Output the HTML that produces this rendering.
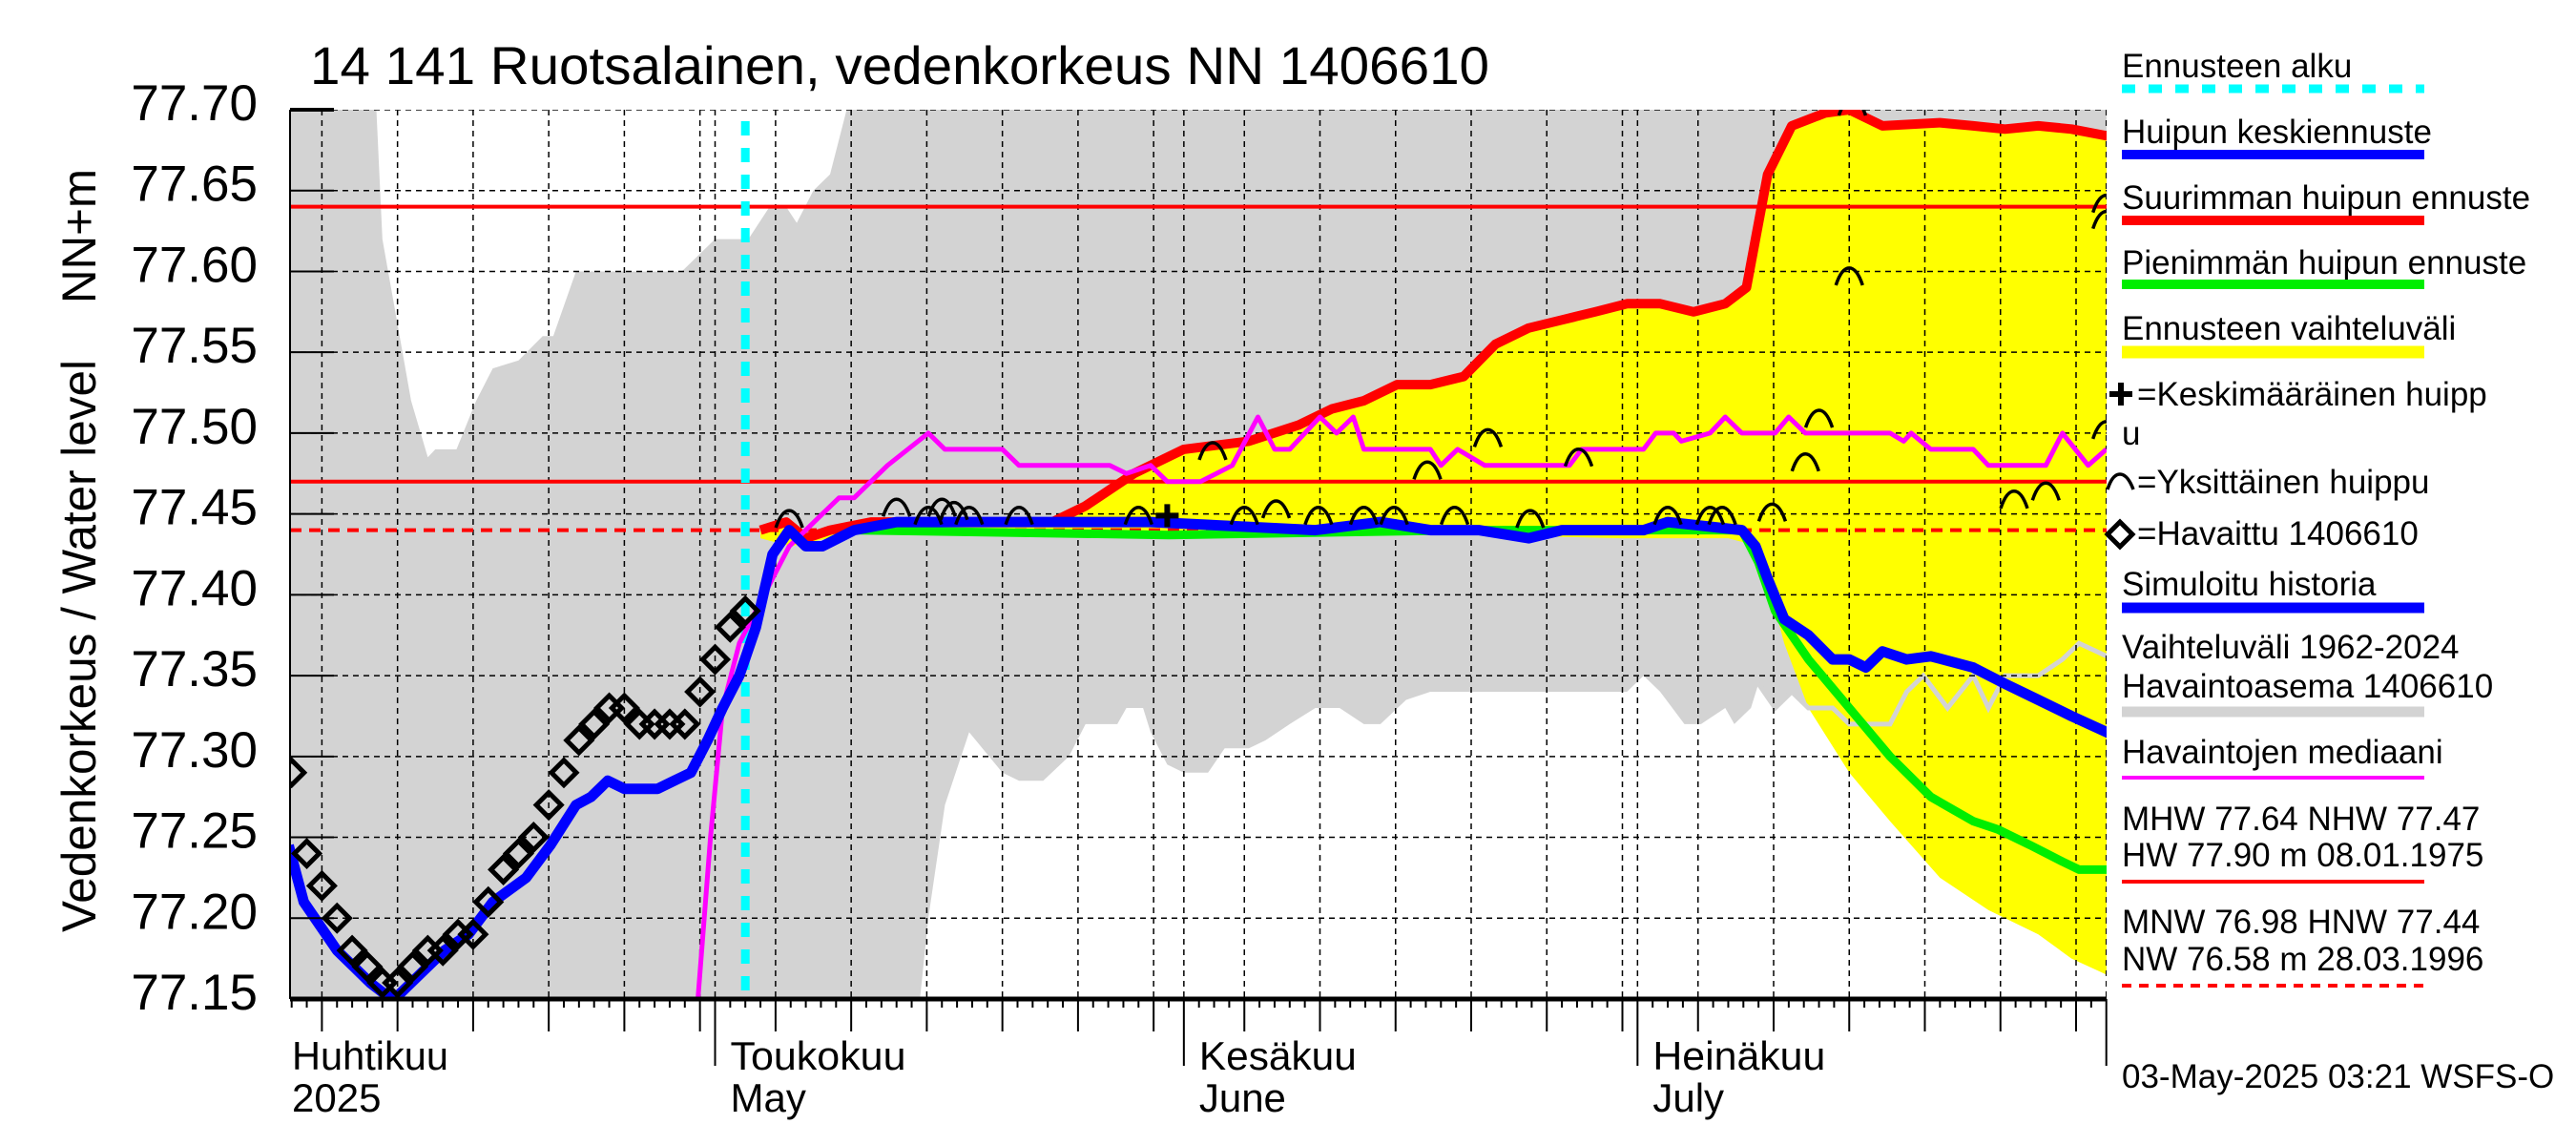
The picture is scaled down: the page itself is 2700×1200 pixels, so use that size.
<!DOCTYPE html>
<html><head><meta charset="utf-8"><style>
html,body{margin:0;padding:0;background:#fff;}
svg{display:block;font-family:"Liberation Sans",sans-serif;}
</style></head><body>
<svg id="chart" xmlns="http://www.w3.org/2000/svg" width="2700" height="1200" viewBox="0 0 2700 1200">
<defs><clipPath id="plotclip"><rect x="304" y="115" width="1904" height="932"/></clipPath></defs>
<rect width="2700" height="1200" fill="#fff"/>
<g id="plot" clip-path="url(#plotclip)"></g>
<g id="axes"></g>
<text x="325" y="88" font-size="56" textLength="1236" lengthAdjust="spacingAndGlyphs">14 141 Ruotsalainen, vedenkorkeus NN 1406610</text>
<text transform="translate(100,977) rotate(-90)" font-size="50" textLength="600" lengthAdjust="spacingAndGlyphs">Vedenkorkeus / Water level</text>
<text transform="translate(100,318) rotate(-90)" font-size="50" textLength="141" lengthAdjust="spacingAndGlyphs">NN+m</text>
<g id="legend" font-size="35"></g>
</svg>
<script>
// ---- data (days since 1 April 2025) ----
const yTicks = [77.15,77.20,77.25,77.30,77.35,77.40,77.45,77.50,77.55,77.60,77.65,77.70];
const yTickLabels = ["77.15","77.20","77.25","77.30","77.35","77.40","77.45","77.50","77.55","77.60","77.65","77.70"];
const monthDays = [0,30,61,91,122];
const monthNames = ["Huhtikuu","Toukokuu","Kesäkuu","Heinäkuu"];
const monthNamesEn = ["2025","May","June","July"];
const forecastStart = 32.0;
const refLevels = [77.64,77.47];
const refDashed = [77.44];

const grayUpDays = [1.8,7.6,8.0,9.9,11.0,11.5,12.9,14.2,15.3,17.0,18.6,19.3,20.8,21.8,27.8,30.0,32.2,33.6,34.7,35.4,36.5,37.6,38.7,123];
const grayUpVals = [77.70,77.70,77.62,77.52,77.485,77.49,77.49,77.52,77.54,77.545,77.56,77.56,77.60,77.60,77.60,77.62,77.62,77.64,77.64,77.63,77.65,77.66,77.70,77.70];
const grayLoDays = [1.8,43.0,44.1,45.2,46.8,49.0,50.1,51.7,53.4,54.5,56.6,57.2,58.3,58.8,59.9,61.0,62.6,63.7,65.3,66.4,68.0,69.7,71.3,72.9,74.0,75.7,77.3,90.3,91.4,92.5,94.1,95.2,96.8,97.4,98.5,99.0,100.1,101.2,102.3,103.9,105.0,107.7,108.8,109.9,111.5,113.2,114.2,115.3,117.5,119.1,120.2,122.5];
const grayLoVals = [77.10,77.10,77.20,77.27,77.315,77.29,77.285,77.285,77.30,77.32,77.32,77.33,77.33,77.315,77.295,77.29,77.29,77.305,77.305,77.31,77.32,77.33,77.33,77.32,77.32,77.335,77.34,77.34,77.35,77.34,77.32,77.32,77.33,77.32,77.33,77.345,77.33,77.34,77.33,77.33,77.32,77.32,77.34,77.35,77.33,77.35,77.33,77.35,77.35,77.36,77.37,77.36];

const maxDays = [33.0,34.7,36.0,37.6,40.3,47.9,52.3,54.5,57.7,61.0,65.3,68.6,70.8,72.9,75.1,77.3,79.5,81.6,83.8,86.0,88.2,90.3,92.5,94.7,96.8,98.2,98.8,99.6,101.2,103.4,105.0,107.2,111.0,113.2,115.3,117.5,119.7,122.5];
const maxVals = [77.44,77.445,77.435,77.44,77.445,77.445,77.445,77.455,77.475,77.49,77.495,77.505,77.515,77.52,77.53,77.53,77.535,77.555,77.565,77.57,77.575,77.58,77.58,77.575,77.58,77.59,77.62,77.66,77.69,77.698,77.70,77.69,77.692,77.69,77.688,77.69,77.688,77.683];
const bandLoDays = [33.0,35.0,40.0,60.0,80.0,90.0,97.0,99.0,100.7,102.3,105.0,107.7,111.0,114.2,117.5,119.7,122.5];
const bandLoVals = [77.435,77.43,77.44,77.438,77.437,77.435,77.435,77.43,77.37,77.33,77.29,77.26,77.225,77.205,77.19,77.175,77.163];

const minDays = [39.2,60.0,80.0,97.9,99.0,100.1,102.3,105.0,107.7,110.4,113.2,114.8,117.0,119.1,120.2,122.5];
const minVals = [77.44,77.437,77.44,77.44,77.42,77.39,77.36,77.33,77.30,77.275,77.26,77.255,77.245,77.235,77.23,77.23];

const meanDays = [1.8,2.8,3.9,5.0,6.1,7.2,8.3,8.8,9.9,11.0,12.1,13.7,15.3,17.5,19.1,20.8,21.8,22.9,24.0,26.2,27.3,28.4,29.5,30.5,31.6,32.7,33.8,34.9,36.0,37.1,39.2,42.0,58.8,69.7,74.0,77.3,80.5,83.8,86.0,91.4,93.0,97.9,98.8,99.6,100.7,102.3,103.9,105.0,106.1,107.2,108.8,110.4,113.2,115.3,117.5,119.7,122.5];
const meanVals = [77.245,77.21,77.195,77.18,77.17,77.16,77.152,77.15,77.16,77.17,77.18,77.19,77.21,77.225,77.245,77.27,77.275,77.285,77.28,77.28,77.285,77.29,77.31,77.33,77.35,77.38,77.425,77.44,77.43,77.43,77.44,77.445,77.445,77.44,77.445,77.44,77.44,77.435,77.44,77.44,77.445,77.44,77.43,77.41,77.385,77.375,77.36,77.36,77.355,77.365,77.36,77.362,77.355,77.345,77.335,77.325,77.313];

const medianDays = [28.7,29.7,30.5,31.6,32.7,33.8,34.9,36.0,37.1,38.2,39.2,41.4,44.1,45.2,49.0,50.1,56.1,57.2,58.8,59.9,62.1,64.2,65.9,67.0,68.0,70.0,71.1,72.2,72.9,77.3,78.0,79.1,80.9,86.5,87.3,91.4,92.2,93.4,93.9,95.8,96.8,97.9,100.1,101.0,102.1,107.7,108.6,109.1,110.4,113.2,114.2,115.1,118.0,119.1,120.8,122.0];
const medianVals = [77.13,77.25,77.33,77.37,77.39,77.41,77.43,77.44,77.45,77.46,77.46,77.48,77.50,77.49,77.49,77.48,77.48,77.475,77.48,77.47,77.47,77.48,77.51,77.49,77.49,77.51,77.50,77.51,77.49,77.49,77.48,77.49,77.48,77.48,77.49,77.49,77.50,77.50,77.495,77.50,77.51,77.50,77.50,77.51,77.50,77.50,77.495,77.50,77.49,77.49,77.48,77.48,77.48,77.50,77.48,77.49];

const obsDays = [2,3,4,5,6,7,8,9,10,11,12,13,14,15,16,17,18,19,20,21,22,23,24,25,26,27,28,29,30,31,32];
const obsVals = [77.29,77.24,77.22,77.20,77.18,77.17,77.16,77.16,77.17,77.18,77.18,77.19,77.19,77.21,77.23,77.24,77.25,77.27,77.29,77.31,77.32,77.33,77.33,77.32,77.32,77.32,77.32,77.34,77.36,77.38,77.39];

const peakDays = [34.9,42.0,44.1,45.0,45.8,46.8,50.1,58.0,62.9,65.0,67.1,69.9,72.9,74.9,77.1,78.9,81.1,83.9,87.1,93.0,95.8,96.6,99.9,102.1,103.0,105.0,105.2,115.9,118.0,122.0,122.0,122.0];
const peakVals = [77.445,77.452,77.447,77.452,77.45,77.447,77.447,77.447,77.487,77.447,77.451,77.447,77.447,77.447,77.475,77.447,77.495,77.445,77.483,77.447,77.447,77.447,77.449,77.48,77.507,77.595,77.70,77.457,77.462,77.64,77.63,77.50];
const meanPeakDays = [59.9];
const meanPeakVals = [77.449];

// ---- scales ----
const X0 = 274, DX = 15.85, PL = 304, PR = 2208, PT = 115, PB = 1047;
const xS = d => X0 + d * DX;
const yS = v => PT + (77.70 - v) / 0.55 * (PB - PT);
const NS = "http://www.w3.org/2000/svg";
function mk(tag, attrs, parent) {
  const e = document.createElementNS(NS, tag);
  for (const k in attrs) e.setAttribute(k, attrs[k]);
  parent.appendChild(e);
  return e;
}
const plot = document.getElementById('plot');
const axes = document.getElementById('axes');
const legend = document.getElementById('legend');
const pts = (ds, vs) => ds.map((d, i) => xS(d).toFixed(1) + ',' + yS(vs[i]).toFixed(1)).join(' ');

const grayPoly = pts(grayUpDays, grayUpVals) + ' ' + pts(grayLoDays.slice().reverse(), grayLoVals.slice().reverse());
let e = mk('polygon', {points: grayPoly, fill: '#d3d3d3'}, plot);



const yelPoly = pts(maxDays, maxVals) + ' ' + pts(bandLoDays.slice().reverse(), bandLoVals.slice().reverse());
e = mk('polygon', {points: yelPoly, fill: '#ffff00'}, plot);



const gi = grayLoDays.findIndex(d => d >= 99);
e = mk('polyline', {points: pts(grayLoDays.slice(gi), grayLoVals.slice(gi)), fill: 'none', stroke: '#d3d3d3', 'stroke-width': 5}, plot);



const gridG = mk('g', {stroke: '#000', 'stroke-width': 1.5, 'stroke-dasharray': '6,5'}, plot);


const gridDays = [];
for (let m = 0; m < 4; m++) {
  const s = monthDays[m];
  gridDays.push(s);
  for (let k = 5; k <= 30; k += 5) gridDays.push(s + k - 1);
}
gridDays.push(122);
gridDays.forEach(d => {
  e = mk('line', {x1: xS(d), x2: xS(d), y1: PT, y2: PB}, gridG);
  
  
});
yTicks.forEach(v => {
  e = mk('line', {x1: PL, x2: PR, y1: yS(v), y2: yS(v)}, gridG);
  
  
});

refLevels.forEach(v => {
  e = mk('line', {x1: PL, x2: PR, y1: yS(v), y2: yS(v), stroke: '#ff0000', 'stroke-width': 4}, plot);
  
  
});
refDashed.forEach(v => {
  e = mk('line', {x1: PL, x2: PR, y1: yS(v), y2: yS(v), stroke: '#ff0000', 'stroke-width': 4, 'stroke-dasharray': '12,8'}, plot);
  
  
});

e = mk('line', {x1: xS(forecastStart), x2: xS(forecastStart), y1: PT + 12, y2: PB, stroke: '#00ffff', 'stroke-width': 9, 'stroke-dasharray': '15,13'}, plot);



function line(ds, vs, col, w, name) {
  const l = mk('polyline', {points: pts(ds, vs), fill: 'none', stroke: col, 'stroke-width': w, 'stroke-linejoin': 'round'}, plot);
  
  
}
line(maxDays, maxVals, '#ff0000', 10, 'max-peak-forecast-line');
line(minDays, minVals, '#00ee00', 9, 'min-peak-forecast-line');
line(medianDays, medianVals, '#ff00ff', 5, 'median-line');
line(meanDays, meanVals, '#0000ff', 11, 'mean-forecast-line');

obsDays.forEach((d, i) => {
  const cx = xS(d), cy = yS(obsVals[i]), r = 13;
  const p = mk('polygon', {points: `${cx},${cy-r} ${cx+r},${cy} ${cx},${cy+r} ${cx-r},${cy}`, fill: 'none', stroke: '#000', 'stroke-width': 5}, plot);
  
  
});
peakDays.forEach((d, i) => {
  const cx = xS(d), cy = yS(peakVals[i]);
  const p = mk('path', {d: `M${cx-14},${cy+6} Q${cx-8},${cy-12} ${cx},${cy-12} Q${cx+8},${cy-12} ${cx+14},${cy+6}`, fill: 'none', stroke: '#000', 'stroke-width': 3.5}, plot);
  
  
});
meanPeakDays.forEach((d, i) => {
  const cx = xS(d), cy = yS(meanPeakVals[i]);
  const p = mk('path', {d: `M${cx-12},${cy} H${cx+12} M${cx},${cy-12} V${cy+12}`, stroke: '#000', 'stroke-width': 6}, plot);
  
  
});

e = mk('line', {x1: PL, x2: PL, y1: PT, y2: PB, stroke: '#000', 'stroke-width': 2}, axes);


e = mk('line', {x1: PL, x2: PR, y1: PB, y2: PB, stroke: '#000', 'stroke-width': 5}, axes);


yTicks.forEach((v, i) => {
  e = mk('line', {x1: PL, x2: PL + 46, y1: yS(v), y2: yS(v), stroke: '#000', 'stroke-width': i === yTicks.length - 1 ? 4 : 2}, axes);
  
  
  const t = mk('text', {x: 270, y: yS(v) + 11, 'font-size': 53, 'text-anchor': 'end'}, axes);
  t.textContent = yTickLabels[i];
  
  
});
for (let d = 2; d <= 122; d++) {
  let len = 9;
  if (monthDays.includes(d)) len = 70;
  else if (gridDays.includes(d)) len = 34;
  e = mk('line', {x1: xS(d), x2: xS(d), y1: PB, y2: PB + len, stroke: '#000', 'stroke-width': 2}, axes);
  
  
}
const labW = [164, 184, 165, 181];
for (let m = 0; m < 4; m++) {
  const lx = m === 0 ? 306 : xS(monthDays[m]) + 16;
  let t = mk('text', {x: lx, y: 1121, 'font-size': 42, textLength: labW[m], lengthAdjust: 'spacingAndGlyphs'}, axes);
  t.textContent = monthNames[m];
  
  
  t = mk('text', {x: lx, y: 1165, 'font-size': 42}, axes);
  t.textContent = monthNamesEn[m];
  
  
}

const LX = 2224, LX2 = 2541;
function ltext(txt, x, y, name) {
  const t = mk('text', {x: x, y: y}, legend);
  t.textContent = txt;
  
  
}
function lline(y, col, w, dash, name) {
  const a = {x1: LX, x2: LX2, y1: y, y2: y, stroke: col, 'stroke-width': w};
  if (dash) a['stroke-dasharray'] = dash;
  const l = mk('line', a, legend);
  
  
}
ltext('Ennusteen alku', LX, 81, 'legend-forecast-start-label'); lline(93, '#00ffff', 9, '14,14', 'legend-forecast-start-swatch');
ltext('Huipun keskiennuste', LX, 150, 'legend-mean-label'); lline(162, '#0000ff', 10, null, 'legend-mean-swatch');
ltext('Suurimman huipun ennuste', LX, 219, 'legend-max-label'); lline(231, '#ff0000', 10, null, 'legend-max-swatch');
ltext('Pienimmän huipun ennuste', LX, 287, 'legend-min-label'); lline(298, '#00ee00', 10, null, 'legend-min-swatch');
ltext('Ennusteen vaihteluväli', LX, 356, 'legend-range-label'); lline(369, '#ffff00', 13, null, 'legend-range-swatch');
e = mk('path', {d: 'M2211,413 H2235 M2223,401 V425', stroke: '#000', 'stroke-width': 6}, legend);


ltext('=Keskimääräinen huipp', 2240, 425, 'legend-mean-peak-label');
ltext('u', LX, 466, 'legend-mean-peak-label-wrap');
e = mk('path', {d: 'M2209,513 Q2214,497 2222,497 Q2230,497 2236,513', fill: 'none', stroke: '#000', 'stroke-width': 3.5}, legend);


ltext('=Yksittäinen huippu', 2240, 517, 'legend-single-peak-label');
e = mk('polygon', {points: '2222,547 2235,560 2222,573 2209,560', fill: 'none', stroke: '#000', 'stroke-width': 5}, legend);


ltext('=Havaittu 1406610', 2240, 571, 'legend-observed-label');
ltext('Simuloitu historia', LX, 624, 'legend-sim-label'); lline(637, '#0000ff', 11, null, 'legend-sim-swatch');
ltext('Vaihteluväli 1962-2024', LX, 690, 'legend-hist-range-label');
ltext(' Havaintoasema 1406610', LX, 731, 'legend-hist-station-label'); lline(746, '#d3d3d3', 11, null, 'legend-hist-range-swatch');
ltext('Havaintojen mediaani', LX, 800, 'legend-median-label'); lline(815, '#ff00ff', 4, null, 'legend-median-swatch');
ltext('MHW  77.64 NHW  77.47', LX, 870, 'legend-mhw-label');
ltext('HW  77.90 m 08.01.1975', LX, 908, 'legend-hw-label'); lline(924, '#ff0000', 4, null, 'legend-hw-swatch');
ltext('MNW  76.98 HNW  77.44', LX, 978, 'legend-mnw-label');
ltext('NW  76.58 m 28.03.1996', LX, 1017, 'legend-nw-label'); lline(1033, '#ff0000', 4, '10,8', 'legend-nw-swatch');
ltext('03-May-2025 03:21 WSFS-O', LX, 1140, 'timestamp-label');
</script>
</body></html>
